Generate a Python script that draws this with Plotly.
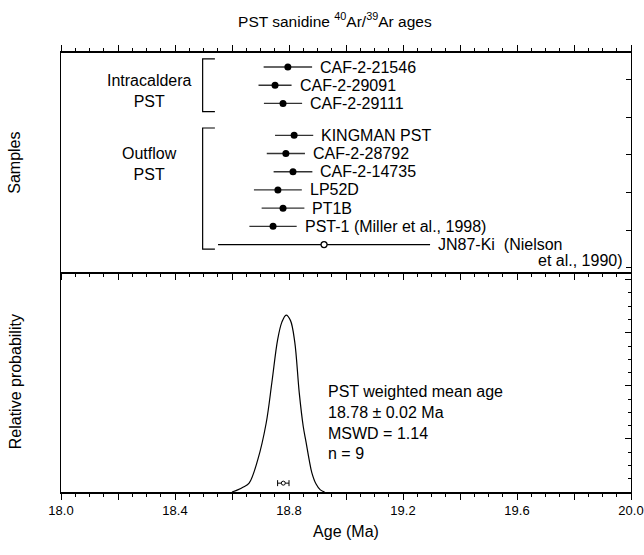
import plotly.graph_objects as go

# sample ages (Ma) and 2-sigma errors
intra_names = ['CAF-2-21546', 'CAF-2-29091', 'CAF-2-29111']
intra_ages = [18.796, 18.751, 18.779]
intra_errs = [0.085, 0.058, 0.067]

out_names = ['KINGMAN PST', 'CAF-2-28792', 'CAF-2-14735', 'LP52D', 'PT1B', 'PST-1 (Miller et al., 1998)']
out_ages = [18.818, 18.789, 18.814, 18.761, 18.779, 18.744]
out_errs = [0.067, 0.067, 0.068, 0.084, 0.075, 0.083]

rejected_name = 'JN87-Ki  (Nielson'
rejected_age = 18.923
rejected_err = 0.372

# probability curve
curve_age = [18.60, 18.62, 18.64, 18.66, 18.69, 18.72, 18.74, 18.76, 18.775, 18.79,
             18.805, 18.82, 18.836, 18.85, 18.86, 18.871, 18.88, 18.895, 18.91, 18.925]
curve_prob = [0.0, 0.012, 0.028, 0.05, 0.18, 0.39, 0.62, 0.86, 0.96, 1.0,
              0.97, 0.85, 0.56, 0.37, 0.28, 0.18, 0.11, 0.045, 0.012, 0.0]

mean_age = 18.78
mean_err = 0.02

label_vals = [18.0, 18.4, 18.8, 19.2, 19.6, 20.0]
label_text = ['18.0', '18.4', '18.8', '19.2', '19.6', '20.0']
major_vals = [18.0, 18.2, 18.4, 18.6, 18.8, 19.0, 19.2, 19.4, 19.6, 19.8, 20.0]

# row positions in the sample panel
intra_rows = [1, 2, 3]
out_rows = [4.75, 5.75, 6.75, 7.75, 8.75, 9.75]
rejected_row = 10.75

FONT = 'Liberation Sans, Arial, sans-serif'
fig = go.Figure()

fig.add_trace(go.Scatter(
    x=intra_ages + out_ages, y=intra_rows + out_rows, mode='markers',
    marker=dict(color='black', size=7),
    error_x=dict(type='data', array=intra_errs + out_errs, width=0, thickness=1.3, color='#333'),
    xaxis='x2', yaxis='y2', showlegend=False))
fig.add_trace(go.Scatter(
    x=[rejected_age], y=[rejected_row], mode='markers',
    marker=dict(color='white', size=6, line=dict(color='black', width=1.3)),
    error_x=dict(type='data', array=[rejected_err], width=0, thickness=1.2, color='black'),
    xaxis='x2', yaxis='y2', showlegend=False))

names = intra_names + out_names + [rejected_name]
ages = intra_ages + out_ages + [rejected_age]
errs = intra_errs + out_errs + [rejected_err]
rows = intra_rows + out_rows + [rejected_row]
for n, a, e, r in zip(names, ages, errs, rows):
    fig.add_annotation(x=a + e, y=r, xref='x2', yref='y2', text=n, showarrow=False,
                       xanchor='left', xshift=6, font=dict(size=16, family=FONT, color='black'))
fig.add_annotation(x=20, y=rejected_row, xref='x2', yref='y2', text='et al., 1990)', showarrow=False,
                   xanchor='right', yshift=-16, xshift=-6, font=dict(size=16, family=FONT, color='black'))

# group brackets
groups = [('Intracaldera<br>PST', intra_rows[0] - 0.45, intra_rows[-1] + 0.45, 0.3),
          ('Outflow<br>PST', out_rows[0] - 0.4, rejected_row + 0.25, -1.35)]
for lab, r0, r1, dy in groups:
    fig.add_shape(type='path', xref='x2', yref='y2',
                  path=f'M 18.54 {r0} L 18.497 {r0} L 18.497 {r1} L 18.54 {r1}',
                  line=dict(color='black', width=1.2))
    fig.add_annotation(x=18.31, y=(r0 + r1) / 2 + dy, xref='x2', yref='y2',
                       text=lab, showarrow=False, font=dict(size=16, family=FONT, color='black'))

# probability curve and weighted mean
fig.add_trace(go.Scatter(x=curve_age, y=curve_prob, mode='lines', line=dict(color='black', width=1.2, shape='spline'),
                         showlegend=False))
fig.add_trace(go.Scatter(x=[mean_age], y=[0.05], mode='markers',
                         marker=dict(color='white', size=4, line=dict(color='black', width=1)),
                         error_x=dict(type='data', array=[mean_err], width=3, thickness=1, color='black'),
                         showlegend=False))
fig.add_annotation(x=18.93, y=0.39, xanchor='left', yanchor='middle', align='left', showarrow=False,
                   text='PST weighted mean age<br>18.78 ± 0.02 Ma<br>MSWD = 1.14<br>n = 9',
                   font=dict(size=16, family=FONT, color='black'))

axis_common = dict(range=[18, 20], showgrid=False, zeroline=False, showline=True, linecolor='black',
                   tickcolor='black', automargin=False)
fig.update_layout(
    width=644, height=555, plot_bgcolor='white', paper_bgcolor='white',
    margin=dict(l=61, r=13, t=53, b=63),
    font=dict(family=FONT, color='black'),
    title=dict(text='PST sanidine <sup>40</sup>Ar/<sup>39</sup>Ar ages', x=0.52, xanchor='center',
               y=0.962, yanchor='middle', font=dict(size=15.5, family=FONT, color='black')),
    xaxis=dict(**axis_common, anchor='y', tickmode='array', tickvals=label_vals, ticktext=label_text,
               ticks='outside', ticklen=6, linewidth=1.5, tickfont=dict(size=13),
               minor=dict(dtick=0.05, ticks='outside', ticklen=3, tickcolor='black'),
               title=dict(text='Age (Ma)', font=dict(size=16), standoff=8)),
    xaxis3=dict(**axis_common, anchor='y', overlaying='x', tickmode='array', tickvals=major_vals,
                showticklabels=False, ticks='outside', ticklen=6, linewidth=1.5),
    xaxis2=dict(**axis_common, anchor='y2', tickmode='array', tickvals=major_vals, showticklabels=False,
                ticks='outside', ticklen=6, linewidth=1.8, mirror='ticks',
                minor=dict(dtick=0.05, ticks='outside', ticklen=3, tickcolor='black')),
    yaxis=dict(domain=[0, 0.501], range=[0, 1.243], side='right', showgrid=False, zeroline=False, showline=True,
               linecolor='black', mirror=True, ticks='inside', ticklen=6, tick0=0, dtick=0.3, tickcolor='black',
               showticklabels=False, automargin=False,
               minor=dict(dtick=0.075, ticks='inside', ticklen=3, tickcolor='black')),
    yaxis2=dict(domain=[0.501, 1], range=[12.26, 0.23], side='right', showgrid=False, zeroline=False, showline=True,
                linecolor='black', mirror=True, ticks='inside', ticklen=5, tick0=1.71, dtick=2.06, tickcolor='black',
                showticklabels=False, automargin=False),
)
# invisible trace so the extra tick axis is drawn
fig.add_trace(go.Scatter(x=[18, 20], y=[0, 0], xaxis='x3', yaxis='y', mode='lines',
                         line=dict(width=0), hoverinfo='skip', showlegend=False))
fig.add_annotation(x=0, y=0.75, xref='paper', yref='paper', text='Samples', textangle=-90, showarrow=False,
                   xanchor='center', yanchor='middle', xshift=-46, font=dict(size=16, family=FONT, color='black'))
fig.add_annotation(x=0, y=0.25, xref='paper', yref='paper', text='Relative probability', textangle=-90,
                   xanchor='center', yanchor='middle', xshift=-46, showarrow=False,
                   font=dict(size=16, family=FONT, color='black'))

# drop the default body margin so the figure sits at the window's top-left corner
fig.write_html('out.html', config={'displayModeBar': False},
               post_script="document.body.style.margin='0';")
